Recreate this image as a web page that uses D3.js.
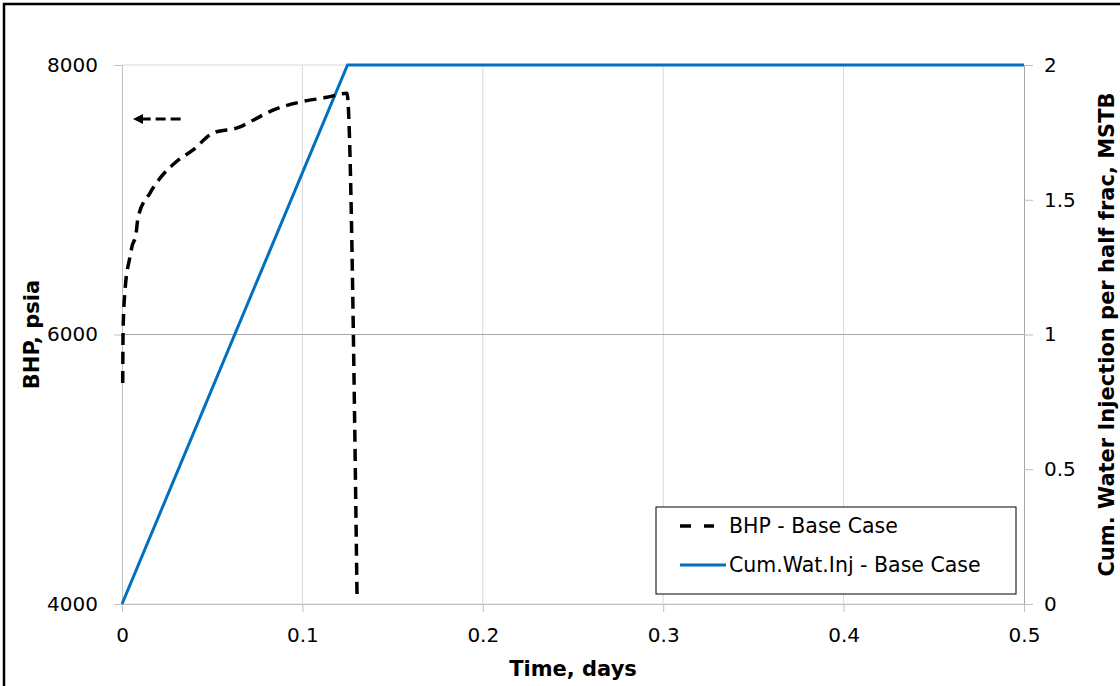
<!DOCTYPE html>
<html>
<head>
<meta charset="utf-8">
<title>BHP and cumulative water injection</title>
<script src="https://cdn.jsdelivr.net/npm/d3@7"></script>
<style>
  body { margin: 0; background: #fff; overflow: hidden; }
  svg text { font-family: "DejaVu Sans", Verdana, sans-serif; fill: #000; }
  .tick text { font-size: 20px; }
  .title { font-size: 21px; font-weight: bold; }
</style>
</head>
<body>
<svg id="chart" width="1120" height="686"></svg>
<script>
// BHP - Base Case (time in days, psia)
var bhpTime = [0.0004, 0.0006, 0.0017, 0.0044, 0.0055, 0.0078, 0.0089, 0.0155, 0.0211, 0.0299,
               0.0394, 0.0504, 0.0654, 0.0726, 0.0837, 0.0987, 0.1136, 0.1247, 0.1303];
var bhpPsia = [5640, 6030, 6330, 6575, 6650, 6750, 6870, 7050, 7160, 7280,
               7370, 7495, 7540, 7590, 7665, 7725, 7760, 7790, 4040];

// Cum.Wat.Inj - Base Case (time in days, MSTB)
var injTime = [0, 0.125, 0.5];
var injMstb = [0, 2, 2];

var xTicks = [0, 0.1, 0.2, 0.3, 0.4, 0.5];
var leftTicks = [4000, 6000, 8000];
var rightTicks = [0, 0.5, 1, 1.5, 2];

// annotation arrow pointing to the left axis
var arrowTime = [0.0325, 0.0061];
var arrowPsia = 7600;

var svg = d3.select("#chart");

var x = d3.scaleLinear().domain([0, 0.5]).range([122, 1024]);
var yL = d3.scaleLinear().domain([4000, 8000]).range([604, 65]);
var yR = d3.scaleLinear().domain([0, 2]).range([604, 65]);

// outer frame (cropped on right and bottom)
svg.append("rect")
  .attr("x", 4).attr("y", 4)
  .attr("width", 1200).attr("height", 800)
  .attr("fill", "none").attr("stroke", "#000").attr("stroke-width", 2.5);

// vertical gridlines
svg.append("g").selectAll("line")
  .data(xTicks.slice(1, -1))
  .join("line")
  .attr("x1", d => x(d)).attr("x2", d => x(d))
  .attr("y1", yL(8000)).attr("y2", yL(4000))
  .attr("stroke", "#d9d9d9").attr("stroke-width", 1);

// horizontal gridlines
svg.append("g").selectAll("line")
  .data(leftTicks)
  .join("line")
  .attr("x1", x(0)).attr("x2", x(0.5))
  .attr("y1", d => yL(d)).attr("y2", d => yL(d))
  .attr("stroke", d => d == 6000 ? "#a6a6a6" : "#d9d9d9").attr("stroke-width", 1);

// axes
var xAxis = svg.append("g")
  .attr("transform", "translate(0," + yL(4000) + ")")
  .call(d3.axisBottom(x).tickValues(xTicks).tickFormat(d3.format("")).tickSize(8).tickSizeOuter(0).tickPadding(16));

var leftAxis = svg.append("g")
  .attr("transform", "translate(" + x(0) + ",0)")
  .call(d3.axisLeft(yL).tickValues(leftTicks).tickFormat(d3.format("d")).tickSize(8).tickSizeOuter(0).tickPadding(16));

var rightAxis = svg.append("g")
  .attr("transform", "translate(" + x(0.5) + ",0)")
  .call(d3.axisRight(yR).tickValues(rightTicks).tickFormat(d3.format("")).tickSize(9).tickSizeOuter(0).tickPadding(11));

[xAxis, leftAxis, rightAxis].forEach(function (g) {
  g.attr("font-family", null).attr("font-size", null);
  g.selectAll("line").attr("stroke", "#bfbfbf");
  g.select(".domain").attr("stroke", "#bfbfbf");
});
rightAxis.select(".domain").attr("stroke", "#a6a6a6");

// cumulative water injection line
var injData = injTime.map((t, i) => [t, injMstb[i]]);
svg.append("path")
  .datum(injData)
  .attr("fill", "none")
  .attr("stroke", "#0070c0")
  .attr("stroke-width", 3)
  .attr("d", d3.line().x(d => x(d[0])).y(d => yR(d[1])));

// BHP dashed line
var bhpData = bhpTime.map((t, i) => [t, bhpPsia[i]]);
svg.append("path")
  .datum(bhpData)
  .attr("fill", "none")
  .attr("stroke", "#000")
  .attr("stroke-width", 3.5)
  .attr("stroke-dasharray", "12,7")
  .attr("d", d3.line().curve(d3.curveMonotoneX).x(d => x(d[0])).y(d => yL(d[1])));

// arrow: dashed shaft plus filled head
var ax0 = x(arrowTime[0]), ax1 = x(arrowTime[1]), ay = yL(arrowPsia);
svg.append("line")
  .attr("x1", ax0).attr("x2", ax1 + 9)
  .attr("y1", ay).attr("y2", ay)
  .attr("stroke", "#000").attr("stroke-width", 3)
  .attr("stroke-dasharray", "10,5");
svg.append("path")
  .attr("d", "M" + ax1 + "," + ay + "L" + (ax1 + 10) + "," + (ay - 5) + "L" + (ax1 + 10) + "," + (ay + 5) + "Z")
  .attr("fill", "#000");

// axis titles
svg.append("text").attr("class", "title")
  .attr("text-anchor", "middle")
  .attr("x", (x(0) + x(0.5)) / 2).attr("y", 676)
  .text("Time, days");

svg.append("text").attr("class", "title")
  .attr("text-anchor", "middle")
  .attr("transform", "translate(39," + (yL(6000)) + ") rotate(-90)")
  .text("BHP, psia");

svg.append("text").attr("class", "title")
  .attr("text-anchor", "middle")
  .attr("transform", "translate(1114," + (yR(1)) + ") rotate(-90)")
  .text("Cum. Water Injection per half frac, MSTB");

// legend
var legend = svg.append("g").attr("transform", "translate(656,507)");
legend.append("rect")
  .attr("width", 360).attr("height", 87)
  .attr("fill", "#fff").attr("stroke", "#000").attr("stroke-width", 1);

var legendItems = [
  { label: "BHP - Base Case", color: "#000", dash: "11,13", end: 58 },
  { label: "Cum.Wat.Inj - Base Case", color: "#0070c0", dash: null, end: 70 }
];
var item = legend.selectAll(".item")
  .data(legendItems)
  .join("g")
  .attr("class", "item")
  .attr("transform", (d, i) => "translate(0," + (19 + i * 39) + ")");
item.append("line")
  .attr("x1", 24).attr("x2", d => d.end)
  .attr("stroke", d => d.color)
  .attr("stroke-width", d => d.dash ? 3.5 : 3)
  .attr("stroke-dasharray", d => d.dash);
item.append("text")
  .attr("x", 73).attr("dy", "0.35em")
  .attr("font-size", 20.5)
  .text(d => d.label);
</script>
</body>
</html>
